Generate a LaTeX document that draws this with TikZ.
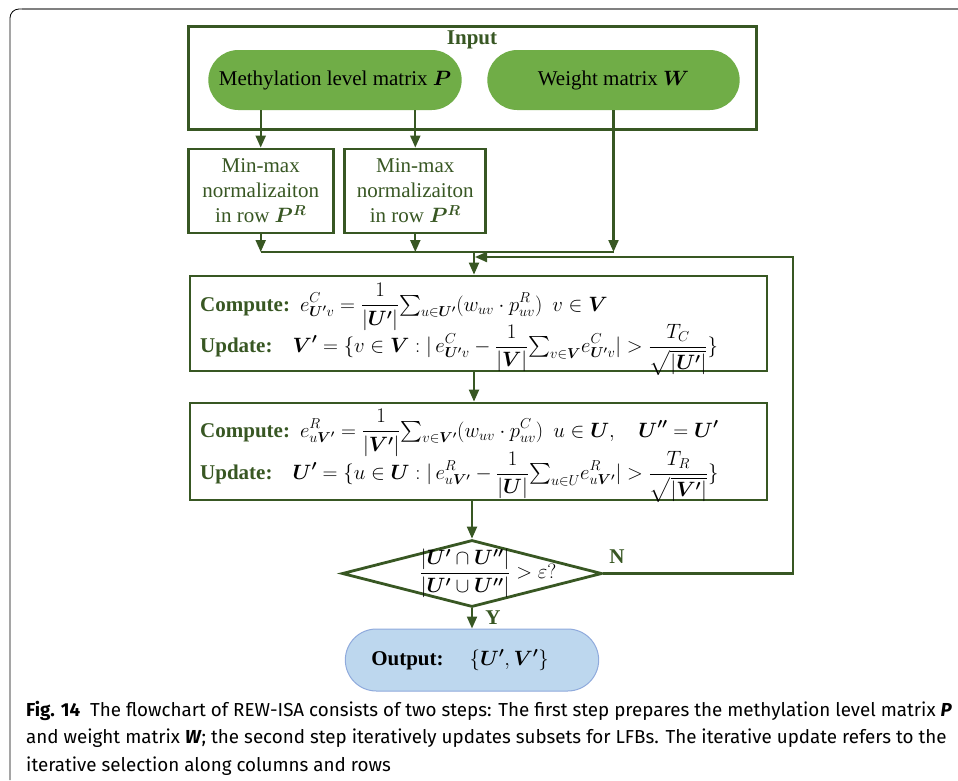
\documentclass[tikz,border=0pt]{standalone}
\usepackage{amsmath}
\usepackage{bm}
\usepackage{fontspec}
\setmainfont{Liberation Serif}
\newfontfamily\capfont{Fira Sans}
\usetikzlibrary{arrows.meta,shapes.geometric,shapes.misc}
\definecolor{dkgreen}{RGB}{56,87,35}
\definecolor{pillgreen}{RGB}{112,173,71}
\definecolor{outfill}{RGB}{189,215,238}
\definecolor{outdraw}{RGB}{143,170,220}
\tikzset{
  box/.style={draw=dkgreen, line width=2.8pt, fill=white},
  pill/.style={rounded rectangle, fill=pillgreen, minimum height=60pt},
  flow/.style={draw=dkgreen, line width=2.1pt, -{Triangle[length=12pt,width=10pt]}},
  wire/.style={draw=dkgreen, line width=2.1pt},
  lbl/.style={text=dkgreen, font=\fontsize{21}{25}\selectfont\bfseries},
  formula/.style={anchor=west, inner sep=0pt, font=\fontsize{20}{24}\selectfont},
}
\newcommand{\stepname}[1]{\textcolor{dkgreen}{\textbf{\fontsize{21}{25}\selectfont#1}}}
\begin{document}
\begin{tikzpicture}[x=1pt,y=-1pt,font=\fontsize{21}{25}\selectfont]
\useasboundingbox (0,0) rectangle (958,780);
% frame
\draw[line width=0.8pt, rounded corners=9pt] (10,780) -- (10,9) -- (24,9);
\draw[gray, line width=2pt] (22,9) -- (958,9);
% input
\node[box, line width=3pt, minimum width=568pt, minimum height=103pt] (input) at (472,77.5) {};
\node[lbl] (intitle) at (472,40) {Input};
\node[pill, minimum width=260pt] (matP) at (335,80) {Methylation level matrix $\bm{P}$};
\node[pill, minimum width=259pt] (matW) at (613.5,80) {Weight matrix $\bm{W}$};
% normalization
\node[box, text=dkgreen, minimum width=145pt, minimum height=84pt, align=center, inner sep=1pt] (norm1) at (260.7,191) {Min-max\\normalizaiton\\in row $\bm{P}^{\bm{R}}$};
\node[box, text=dkgreen, minimum width=141pt, minimum height=84pt, align=center, inner sep=1pt] (norm2) at (415.3,191) {Min-max\\normalizaiton\\in row $\bm{P}^{\bm{R}}$};
\draw[flow] (matP.south -| norm1) -- (norm1.north);
\draw[flow] (matP.south -| norm2) -- (norm2.north);
\coordinate (merge) at (474,252);
\draw[flow] (norm1.south) -- (norm1.south |- merge);
\draw[flow] (norm2.south) -- (norm2.south |- merge);
\draw[flow] (matW.south) -- (matW.south |- merge);
\draw[wire] (norm1.south |- merge) -- (matW.south |- merge);
% iterative update
\node[box, minimum width=577pt, minimum height=95pt] (c1) at (478.5,323.5) {};
\node[box, minimum width=577pt, minimum height=97pt] (c2) at (478.5,451.5) {};
\node[formula] (c1comp) at (200,307) {\stepname{Compute:}\hspace{10pt}$\displaystyle e^{C}_{\bm{U'}v}=\frac{1}{|\bm{U'}|}{\textstyle\sum_{u\in\bm{U'}}}(w_{uv}\cdot p^{R}_{uv})\ \ v\in\bm{V}$};
\node[formula] (c1upd) at (200,350) {\stepname{Update:}\hspace{20pt}$\displaystyle \bm{V'}=\{v\in\bm{V}:|\,e^{C}_{\bm{U'}v}-\frac{1}{|\bm{V}|}{\textstyle\sum_{v\in\bm{V}}}e^{C}_{\bm{U'}v}|>\frac{T_C}{\sqrt{|\bm{U'}|}}\}$};
\node[formula] (c2comp) at (200,433) {\stepname{Compute:}\hspace{10pt}$\displaystyle e^{R}_{u\bm{V'}}=\frac{1}{|\bm{V'}|}{\textstyle\sum_{v\in\bm{V'}}}(w_{uv}\cdot p^{C}_{uv})\ \ u\in\bm{U},\quad \bm{U''}=\bm{U'}$};
\node[formula] (c2upd) at (200,477) {\stepname{Update:}\hspace{20pt}$\displaystyle \bm{U'}=\{u\in\bm{U}:|\,e^{R}_{u\bm{V'}}-\frac{1}{|\bm{U}|}{\textstyle\sum_{u\in U}}e^{R}_{u\bm{V'}}|>\frac{T_R}{\sqrt{|\bm{V'}|}}\}$};
\draw[flow] (merge) -- (merge |- c1.north);
\draw[flow] (c1.south -| merge) -- (c2.north -| merge);
% decision
\node[diamond, draw=dkgreen, line width=2.8pt, fill=white, minimum width=260pt, minimum height=67pt, inner sep=0pt] (dec) at (472,573.5) {};
\node (ratio) at ([xshift=16pt]dec.center) {$\dfrac{|\bm{U'}\cap\bm{U''}|}{|\bm{U'}\cup\bm{U''}|}>\varepsilon?$};
\draw[flow] (c2.south -| dec) -- (dec.north);
\coordinate (loop) at (793,257);
\draw[flow] (dec.east) -- (dec.east -| loop) -- (loop) -- ([xshift=1pt]loop -| merge);
\node[lbl] (no) at (617,557) {N};
\node[lbl] (yes) at (493,618) {Y};
% output
\node[rounded rectangle, fill=outfill, draw=outdraw, line width=1pt, minimum width=260pt, minimum height=62pt] (out) at (472,660) {};
\node (outtxt) at ([xshift=-12pt]out.center) {\textbf{Output:}\hspace{26pt}$\{\bm{U'},\bm{V'}\}$};
\draw[flow] (dec.south) -- (out.north);
% caption
\node[anchor=west, align=left, inner sep=0pt, font=\capfont\fontsize{18.8}{27.5}\selectfont] (cap) at (26,738) {\textbf{Fig. 14}\ \ The flowchart of REW-ISA consists of two steps: The first step prepares the methylation level matrix \textbf{\textit{P}}\\and weight matrix \textbf{\textit{W}}; the second step iteratively updates subsets for LFBs. The iterative update refers to the\\iterative selection along columns and rows};
\end{tikzpicture}
\end{document}
